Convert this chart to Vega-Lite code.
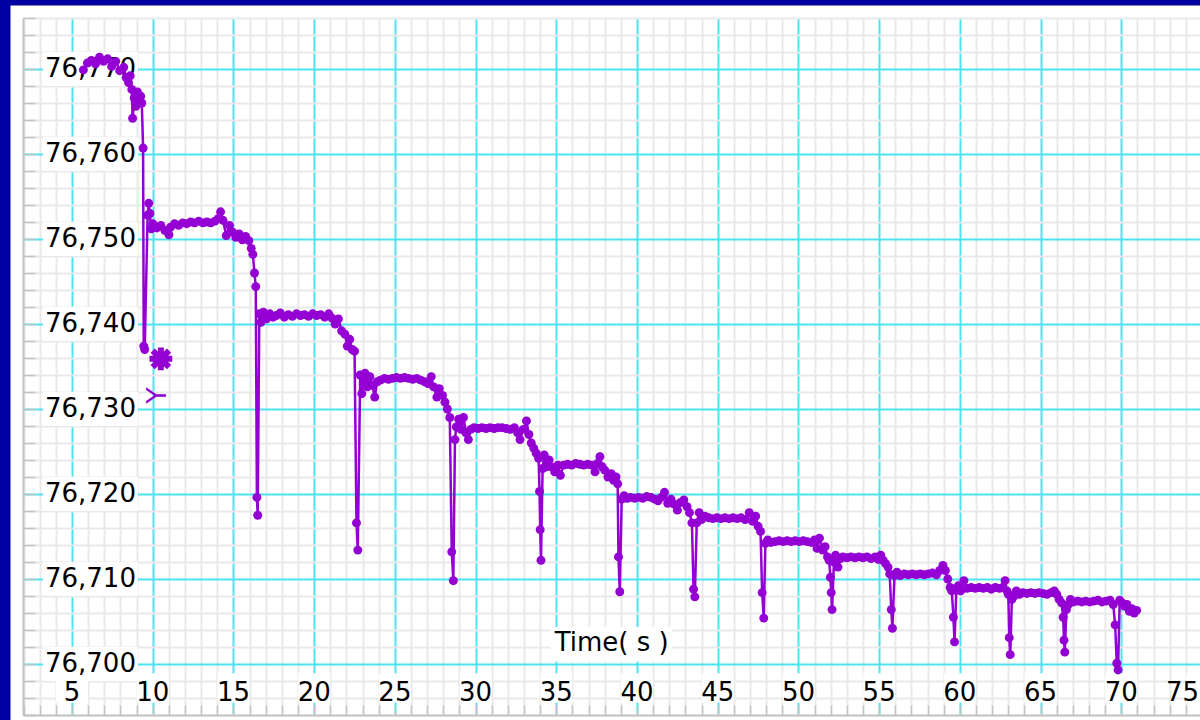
{
  "$schema": "https://vega.github.io/schema/vega-lite/v6.json",
  "width": 1177,
  "height": 697,
  "autosize": {"type": "none"},
  "padding": {"left": 23, "top": 18, "right": 0, "bottom": 5},
  "background": "#0000a0",
  "config": {
    "view": {"stroke": "white", "strokeWidth": 25, "fill": "white"}
  },
  "datasets": {
    "yt": [{"v":76700},{"v":76710},{"v":76720},{"v":76730},{"v":76740},{"v":76750},{"v":76760},{"v":76770}],
    "xt": [{"v":5},{"v":10},{"v":15},{"v":20},{"v":25},{"v":30},{"v":35},{"v":40},{"v":45},{"v":50},{"v":55},{"v":60},{"v":65},{"v":70},{"v":75}],
    "series": [
      {"t":5.70,"y":76769.9},{"t":5.95,"y":76770.7},{"t":6.20,"y":76771.0},{"t":6.45,"y":76770.6},{"t":6.70,"y":76771.4},{"t":6.95,"y":76770.9},{"t":7.20,"y":76771.2},{"t":7.45,"y":76770.3},{"t":7.70,"y":76770.9},{"t":7.95,"y":76769.8},{"t":8.20,"y":76770.2},{"t":8.35,"y":76769.0},{"t":8.50,"y":76768.4},{"t":8.60,"y":76769.2},{"t":8.70,"y":76767.6},{"t":8.75,"y":76764.2},{"t":8.85,"y":76766.6},{"t":8.95,"y":76765.6},{"t":9.05,"y":76767.3},{"t":9.15,"y":76766.2},{"t":9.25,"y":76766.8},{"t":9.32,"y":76766.0},
      {"t":9.40,"y":76760.7},{"t":9.44,"y":76737.4},{"t":9.50,"y":76737.0},{"t":9.68,"y":76752.8},{"t":9.75,"y":76754.2},{"t":9.82,"y":76753.0},{"t":9.90,"y":76751.2},
      {"t":10.00,"y":76751.8},{"t":10.25,"y":76751.3},{"t":10.50,"y":76751.6},{"t":10.75,"y":76751.0},{"t":11.00,"y":76750.5},{"t":11.10,"y":76751.4},{"t":11.35,"y":76751.8},{"t":11.60,"y":76751.6},{"t":11.85,"y":76751.9},{"t":12.10,"y":76751.8},{"t":12.35,"y":76752.0},{"t":12.60,"y":76751.9},{"t":12.85,"y":76752.1},{"t":13.10,"y":76751.9},{"t":13.35,"y":76752.0},{"t":13.60,"y":76751.9},{"t":13.85,"y":76752.1},{"t":14.05,"y":76752.4},{"t":14.20,"y":76753.2},{"t":14.35,"y":76752.2},{"t":14.55,"y":76750.4},{"t":14.75,"y":76751.6},{"t":14.95,"y":76750.8},{"t":15.15,"y":76750.2},{"t":15.35,"y":76750.6},{"t":15.55,"y":76749.9},{"t":15.75,"y":76750.3},{"t":15.95,"y":76749.8},{"t":16.10,"y":76748.9},{"t":16.20,"y":76748.2},{"t":16.30,"y":76746.0},{"t":16.38,"y":76744.4},
      {"t":16.45,"y":76719.6},{"t":16.50,"y":76717.5},
      {"t":16.60,"y":76741.2},{"t":16.70,"y":76740.2},{"t":16.85,"y":76741.4},{"t":17.05,"y":76740.6},{"t":17.25,"y":76741.2},{"t":17.45,"y":76740.8},{"t":17.65,"y":76741.0},{"t":17.90,"y":76741.3},{"t":18.15,"y":76740.8},{"t":18.40,"y":76741.1},{"t":18.65,"y":76740.9},{"t":18.90,"y":76741.2},{"t":19.15,"y":76741.0},{"t":19.40,"y":76741.1},{"t":19.65,"y":76740.9},{"t":19.90,"y":76741.2},{"t":20.15,"y":76741.0},{"t":20.40,"y":76741.1},{"t":20.65,"y":76740.8},{"t":20.90,"y":76741.2},{"t":21.10,"y":76740.7},{"t":21.30,"y":76740.0},{"t":21.50,"y":76740.6},{"t":21.70,"y":76739.2},{"t":21.90,"y":76738.8},{"t":22.05,"y":76737.4},{"t":22.20,"y":76738.2},{"t":22.35,"y":76737.0},{"t":22.50,"y":76736.8},
      {"t":22.62,"y":76716.6},{"t":22.70,"y":76713.4},
      {"t":22.85,"y":76734.0},{"t":22.95,"y":76731.8},{"t":23.05,"y":76733.2},{"t":23.15,"y":76734.2},{"t":23.30,"y":76732.6},{"t":23.45,"y":76733.8},{"t":23.60,"y":76732.8},{"t":23.75,"y":76731.4},{"t":23.90,"y":76733.2},{"t":24.10,"y":76733.4},{"t":24.35,"y":76733.6},{"t":24.60,"y":76733.5},{"t":24.85,"y":76733.6},{"t":25.10,"y":76733.7},{"t":25.35,"y":76733.6},{"t":25.60,"y":76733.7},{"t":25.85,"y":76733.6},{"t":26.10,"y":76733.5},{"t":26.35,"y":76733.6},{"t":26.60,"y":76733.4},{"t":26.85,"y":76733.2},{"t":27.05,"y":76733.0},{"t":27.25,"y":76733.8},{"t":27.40,"y":76732.6},{"t":27.60,"y":76731.4},{"t":27.75,"y":76732.4},{"t":27.95,"y":76731.6},{"t":28.10,"y":76730.8},{"t":28.25,"y":76730.0},{"t":28.40,"y":76729.0},
      {"t":28.52,"y":76713.2},{"t":28.62,"y":76709.8},
      {"t":28.72,"y":76726.4},{"t":28.80,"y":76727.9},{"t":28.95,"y":76728.8},{"t":29.10,"y":76727.6},{"t":29.25,"y":76729.0},{"t":29.40,"y":76727.2},{"t":29.55,"y":76726.4},{"t":29.70,"y":76727.6},{"t":29.90,"y":76727.8},{"t":30.15,"y":76727.7},{"t":30.40,"y":76727.8},{"t":30.65,"y":76727.7},{"t":30.90,"y":76727.8},{"t":31.15,"y":76727.7},{"t":31.40,"y":76727.8},{"t":31.65,"y":76727.8},{"t":31.90,"y":76727.7},{"t":32.15,"y":76727.6},{"t":32.40,"y":76727.8},{"t":32.60,"y":76727.2},{"t":32.75,"y":76726.4},{"t":32.95,"y":76727.6},{"t":33.15,"y":76728.6},{"t":33.30,"y":76727.0},{"t":33.45,"y":76726.0},{"t":33.60,"y":76725.4},{"t":33.75,"y":76724.8},{"t":33.90,"y":76724.2},
      {"t":33.96,"y":76720.3},{"t":34.00,"y":76715.8},{"t":34.05,"y":76712.2},
      {"t":34.15,"y":76723.0},{"t":34.25,"y":76724.6},{"t":34.40,"y":76723.2},{"t":34.55,"y":76724.0},{"t":34.70,"y":76723.2},{"t":34.90,"y":76722.6},{"t":35.10,"y":76723.4},{"t":35.25,"y":76722.2},{"t":35.45,"y":76723.4},{"t":35.70,"y":76723.5},{"t":35.95,"y":76723.4},{"t":36.20,"y":76723.6},{"t":36.45,"y":76723.5},{"t":36.70,"y":76723.4},{"t":36.95,"y":76723.5},{"t":37.20,"y":76723.4},{"t":37.40,"y":76722.6},{"t":37.55,"y":76723.6},{"t":37.70,"y":76724.4},{"t":37.85,"y":76723.2},{"t":38.00,"y":76722.8},{"t":38.20,"y":76722.0},{"t":38.40,"y":76722.4},{"t":38.55,"y":76721.6},{"t":38.70,"y":76722.0},{"t":38.80,"y":76721.2},
      {"t":38.85,"y":76712.6},{"t":38.93,"y":76708.5},
      {"t":39.05,"y":76719.4},{"t":39.20,"y":76719.8},{"t":39.40,"y":76719.5},{"t":39.60,"y":76719.6},{"t":39.85,"y":76719.5},{"t":40.10,"y":76719.6},{"t":40.35,"y":76719.5},{"t":40.60,"y":76719.7},{"t":40.85,"y":76719.6},{"t":41.10,"y":76719.4},{"t":41.30,"y":76719.2},{"t":41.50,"y":76719.6},{"t":41.70,"y":76720.2},{"t":41.90,"y":76718.9},{"t":42.10,"y":76719.4},{"t":42.30,"y":76718.8},{"t":42.50,"y":76718.1},{"t":42.70,"y":76719.0},{"t":42.90,"y":76719.3},{"t":43.10,"y":76718.5},{"t":43.25,"y":76717.8},{"t":43.40,"y":76716.6},
      {"t":43.50,"y":76708.8},{"t":43.58,"y":76707.9},
      {"t":43.70,"y":76716.6},{"t":43.85,"y":76717.8},{"t":44.00,"y":76717.0},{"t":44.20,"y":76717.4},{"t":44.45,"y":76717.2},{"t":44.70,"y":76717.1},{"t":44.95,"y":76717.2},{"t":45.20,"y":76717.1},{"t":45.45,"y":76717.2},{"t":45.70,"y":76717.1},{"t":45.95,"y":76717.2},{"t":46.20,"y":76717.1},{"t":46.45,"y":76717.2},{"t":46.70,"y":76717.0},{"t":46.95,"y":76717.8},{"t":47.15,"y":76716.8},{"t":47.35,"y":76717.4},{"t":47.50,"y":76716.2},{"t":47.65,"y":76715.6},
      {"t":47.75,"y":76708.4},{"t":47.85,"y":76705.4},
      {"t":47.95,"y":76714.2},{"t":48.10,"y":76714.6},{"t":48.30,"y":76714.3},{"t":48.55,"y":76714.4},{"t":48.80,"y":76714.5},{"t":49.05,"y":76714.4},{"t":49.30,"y":76714.5},{"t":49.55,"y":76714.4},{"t":49.80,"y":76714.5},{"t":50.05,"y":76714.4},{"t":50.30,"y":76714.5},{"t":50.55,"y":76714.4},{"t":50.80,"y":76714.3},{"t":51.00,"y":76714.6},{"t":51.15,"y":76713.6},{"t":51.30,"y":76714.8},{"t":51.50,"y":76713.4},{"t":51.65,"y":76713.8},{"t":51.80,"y":76712.6},{"t":51.90,"y":76712.2},
      {"t":51.98,"y":76710.2},{"t":52.03,"y":76708.4},{"t":52.08,"y":76706.4},
      {"t":52.20,"y":76712.0},{"t":52.30,"y":76712.8},{"t":52.45,"y":76711.4},{"t":52.60,"y":76712.4},{"t":52.75,"y":76712.6},{"t":53.00,"y":76712.5},{"t":53.25,"y":76712.6},{"t":53.50,"y":76712.5},{"t":53.75,"y":76712.6},{"t":54.00,"y":76712.5},{"t":54.25,"y":76712.6},{"t":54.50,"y":76712.4},{"t":54.75,"y":76712.6},{"t":54.95,"y":76712.3},{"t":55.10,"y":76712.8},{"t":55.25,"y":76712.2},{"t":55.40,"y":76711.8},{"t":55.55,"y":76711.4},{"t":55.65,"y":76710.6},
      {"t":55.75,"y":76706.4},{"t":55.82,"y":76704.2},
      {"t":55.95,"y":76710.4},{"t":56.10,"y":76710.8},{"t":56.30,"y":76710.4},{"t":56.55,"y":76710.6},{"t":56.80,"y":76710.5},{"t":57.05,"y":76710.6},{"t":57.30,"y":76710.5},{"t":57.55,"y":76710.6},{"t":57.80,"y":76710.5},{"t":58.05,"y":76710.6},{"t":58.30,"y":76710.7},{"t":58.55,"y":76710.5},{"t":58.75,"y":76711.0},{"t":58.95,"y":76711.6},{"t":59.10,"y":76711.0},{"t":59.25,"y":76710.0},{"t":59.40,"y":76709.0},{"t":59.50,"y":76708.6},
      {"t":59.60,"y":76705.5},{"t":59.67,"y":76702.6},
      {"t":59.78,"y":76708.7},{"t":59.90,"y":76709.2},{"t":60.05,"y":76708.6},{"t":60.25,"y":76709.8},{"t":60.45,"y":76708.9},{"t":60.70,"y":76709.0},{"t":60.95,"y":76708.9},{"t":61.20,"y":76709.0},{"t":61.45,"y":76708.9},{"t":61.70,"y":76709.0},{"t":61.95,"y":76708.8},{"t":62.20,"y":76709.0},{"t":62.45,"y":76708.9},{"t":62.65,"y":76709.0},{"t":62.80,"y":76709.8},{"t":62.92,"y":76708.6},{"t":63.00,"y":76708.2},
      {"t":63.06,"y":76703.1},{"t":63.12,"y":76701.1},
      {"t":63.22,"y":76707.6},{"t":63.35,"y":76708.0},{"t":63.50,"y":76708.6},{"t":63.70,"y":76708.2},{"t":63.90,"y":76708.4},{"t":64.15,"y":76708.3},{"t":64.40,"y":76708.4},{"t":64.65,"y":76708.3},{"t":64.90,"y":76708.4},{"t":65.15,"y":76708.3},{"t":65.40,"y":76708.2},{"t":65.65,"y":76708.4},{"t":65.85,"y":76708.6},{"t":66.00,"y":76708.2},{"t":66.15,"y":76707.6},{"t":66.30,"y":76707.2},
      {"t":66.40,"y":76705.5},{"t":66.45,"y":76702.8},{"t":66.50,"y":76701.4},
      {"t":66.60,"y":76706.4},{"t":66.72,"y":76707.0},{"t":66.85,"y":76707.6},{"t":67.05,"y":76707.3},{"t":67.30,"y":76707.4},{"t":67.55,"y":76707.3},{"t":67.80,"y":76707.4},{"t":68.05,"y":76707.3},{"t":68.30,"y":76707.4},{"t":68.55,"y":76707.5},{"t":68.80,"y":76707.3},{"t":69.05,"y":76707.4},{"t":69.30,"y":76707.5},{"t":69.50,"y":76707.0},
      {"t":69.62,"y":76704.6},{"t":69.72,"y":76700.1},{"t":69.80,"y":76699.3},
      {"t":69.90,"y":76707.5},{"t":70.05,"y":76707.2},{"t":70.20,"y":76706.8},{"t":70.35,"y":76707.0},{"t":70.50,"y":76706.2},{"t":70.65,"y":76706.5},{"t":70.80,"y":76706.0},{"t":70.95,"y":76706.3}
    ]
  },
  "layer": [
    {
      "data": {"name": "series"},
      "mark": {"type": "line", "color": "#9400d3", "strokeWidth": 2, "opacity": 0},
      "encoding": {
        "x": {"field": "t", "type": "quantitative", "title": null,
          "scale": {"domain": [1.96, 74.876], "nice": false, "zero": false},
          "axis": {
            "title": null, "labels": false, "tickCount": 200,
            "values": [2,3,4,5,6,7,8,9,10,11,12,13,14,15,16,17,18,19,20,21,22,23,24,25,26,27,28,29,30,31,32,33,34,35,36,37,38,39,40,41,42,43,44,45,46,47,48,49,50,51,52,53,54,55,56,57,58,59,60,61,62,63,64,65,66,67,68,69,70,71,72,73,74],
            "grid": true,
            "gridColor": {"condition": {"test": "datum.value % 5 === 0", "value": "#4ce4f0"}, "value": "#e9e9e9"},
            "gridWidth": 2,
            "ticks": true, "tickSize": -10, "tickColor": "#c4c4c4", "tickWidth": 1.5,
            "domain": true, "domainColor": "#c4c4c4", "domainWidth": 2
          }
        },
        "y": {"field": "y", "type": "quantitative", "title": null,
          "scale": {"domain": [76694, 76776], "nice": false, "zero": false},
          "axis": {
            "title": null, "labels": false, "tickCount": 200,
            "values": [76694,76696,76698,76700,76702,76704,76706,76708,76710,76712,76714,76716,76718,76720,76722,76724,76726,76728,76730,76732,76734,76736,76738,76740,76742,76744,76746,76748,76750,76752,76754,76756,76758,76760,76762,76764,76766,76768,76770,76772,76774,76776],
            "grid": true,
            "gridColor": {"condition": {"test": "datum.value % 10 === 0", "value": "#4ce4f0"}, "value": "#e9e9e9"},
            "gridWidth": 2,
            "ticks": true, "tickSize": -12, "tickColor": "#c4c4c4", "tickWidth": 1.5,
            "domain": true, "domainColor": "#c4c4c4", "domainWidth": 2
          }
        }
      }
    },
    {
      "data": {"name": "yt"},
      "mark": {"type": "rect", "fill": "white", "yOffset": -17, "y2Offset": 17},
      "encoding": {
        "x": {"datum": 3.2, "type": "quantitative"},
        "x2": {"datum": 9.08},
        "y": {"field": "v", "type": "quantitative", "title": null},
        "y2": {"field": "v"}
      }
    },
    {
      "data": {"name": "xt"},
      "mark": {"type": "rect", "fill": "white", "xOffset": -16, "x2Offset": 16},
      "encoding": {
        "x": {"field": "v", "type": "quantitative", "title": null},
        "x2": {"field": "v"},
        "y": {"datum": 76695.45, "type": "quantitative"},
        "y2": {"datum": 76698.9}
      }
    },
    {
      "data": {"values": [{}]},
      "mark": {"type": "rect", "fill": "white"},
      "encoding": {
        "x": {"datum": 34.62, "type": "quantitative"},
        "x2": {"datum": 42.17},
        "y": {"datum": 76700.3, "type": "quantitative"},
        "y2": {"datum": 76704.35}
      }
    },
    {
      "data": {"name": "yt"},
      "mark": {"type": "text", "align": "left", "baseline": "middle", "font": "DejaVu Sans", "fontSize": 26, "color": "#000000"},
      "encoding": {
        "x": {"datum": 3.32, "type": "quantitative"},
        "y": {"field": "v", "type": "quantitative", "title": null},
        "text": {"field": "v", "type": "quantitative", "format": ","}
      }
    },
    {
      "data": {"name": "xt"},
      "transform": [{"filter": "datum.v < 75"}],
      "mark": {"type": "text", "align": "center", "baseline": "middle", "font": "DejaVu Sans", "fontSize": 26, "color": "#000000"},
      "encoding": {
        "x": {"field": "v", "type": "quantitative", "title": null},
        "y": {"datum": 76696.6, "type": "quantitative"},
        "text": {"field": "v", "type": "quantitative"}
      }
    },
    {
      "data": {"name": "xt"},
      "transform": [{"filter": "datum.v >= 75"}],
      "mark": {"type": "text", "align": "right", "baseline": "middle", "dx": -3, "font": "DejaVu Sans", "fontSize": 26, "color": "#000000"},
      "encoding": {
        "x": {"field": "v", "type": "quantitative", "title": null},
        "y": {"datum": 76696.6, "type": "quantitative"},
        "text": {"field": "v", "type": "quantitative"}
      }
    },
    {
      "data": {"values": [{}]},
      "mark": {"type": "text", "text": "Time( s )", "align": "center", "baseline": "middle", "font": "DejaVu Sans", "fontSize": 26, "color": "#000000"},
      "encoding": {
        "x": {"datum": 38.43, "type": "quantitative"},
        "y": {"datum": 76702.5, "type": "quantitative"}
      }
    },
    {
      "data": {"name": "series"},
      "mark": {"type": "line", "color": "#9400d3", "strokeWidth": 2.5, "point": {"filled": true, "size": 80, "color": "#9400d3"}},
      "encoding": {
        "x": {"field": "t", "type": "quantitative", "title": null},
        "y": {"field": "y", "type": "quantitative", "title": null}
      }
    },
    {
      "data": {"values": [{}]},
      "mark": {"type": "point", "shape": "M-1,0L1,0M0,-1L0,1M-0.72,-0.72L0.72,0.72M-0.72,0.72L0.72,-0.72", "filled": false, "stroke": "#9400d3", "strokeWidth": 6, "size": 520, "opacity": 1},
      "encoding": {
        "x": {"datum": 10.5, "type": "quantitative"},
        "y": {"datum": 76735.9, "type": "quantitative"}
      }
    },
    {
      "data": {"values": [{}]},
      "mark": {"type": "text", "text": "Y", "angle": 270, "align": "center", "baseline": "middle", "font": "DejaVu Sans", "fontSize": 27, "color": "#9400d3"},
      "encoding": {
        "x": {"datum": 10.35, "type": "quantitative"},
        "y": {"datum": 76731.6, "type": "quantitative"}
      }
    }
  ]
}
